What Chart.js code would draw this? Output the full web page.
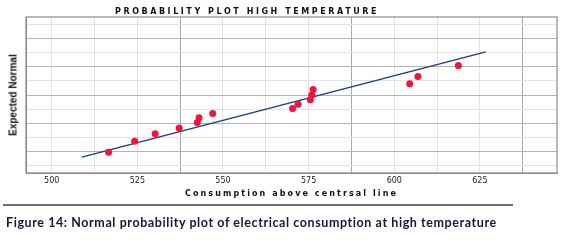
<!DOCTYPE html>
<html>
<head>
<meta charset="utf-8">
<script src="https://cdn.jsdelivr.net/npm/chart.js@4/dist/chart.umd.min.js"></script>
<style>
  html, body { margin:0; padding:0; background:#fff; }
  body { width:568px; height:243px; overflow:hidden; position:relative; }
  #box { position:absolute; left:0; top:0; width:568px; height:200px; }
  #c { display:block; width:568px; height:200px; }
  .t { position:absolute; white-space:nowrap; }
  #title { left:115px; top:7px; font:900 8px "DejaVu Sans", sans-serif; color:#111; }
  #xtitle { left:185px; top:189px; font:900 8px "DejaVu Sans", sans-serif; color:#111; }
  #ytitle { font:bold 10px "Liberation Sans Narrow", "Liberation Sans", sans-serif; color:#111;
            left:13px; top:95px; transform:translate(-50%,-50%) rotate(-90deg); }
  #capwrap { position:absolute; left:3px; top:204px; width:510px; height:36px;
             border-top:2px solid #707070; }
  #caption { left:3px; top:9px; font:bold 12.5px Lato, "Open Sans", sans-serif; color:#15183a; }
</style>
</head>
<body>
<div id="box"><canvas id="c" width="568" height="200"></canvas></div>
<div id="title" class="t">PROBABILITY PLOT HIGH TEMPERATURE</div>
<div id="ytitle" class="t">Expected Normal</div>
<div id="xtitle" class="t">Consumption above centrsal line</div>
<div id="capwrap"><div id="caption" class="t">Figure 14: Normal probability plot of electrical consumption at high temperature</div></div>
<script>
// ---- data ----
const consumption = [516.6, 524.2, 530.2, 537.2, 542.5, 543.0, 547.0, 570.3, 571.9, 575.5, 575.9, 576.3, 604.5, 606.9, 618.7];
const expectedNormal = [-2.02, -1.63, -1.37, -1.16, -0.97, -0.80, -0.65, -0.48, -0.33, -0.17, 0.00, 0.19, 0.40, 0.65, 1.04];
const fitLineX = [508.8, 626.7];
const fitLineY = [-2.19, 1.52];
const xTickLabels = [500, 525, 550, 575, 600, 625];
const xGridValues = [500, 512.5, 525, 537.5, 550, 562.5, 575, 587.5, 600, 612.5, 625, 637.5];
const yGridValues = [-2.5, -2, -1.5, -1, -0.5, 0, 0.5, 1, 1.5, 2, 2.5];

// fit text widths
function fitWidth(id, target) {
  const el = document.getElementById(id);
  const n = el.textContent.length;
  const w = el.getBoundingClientRect().width;
  el.style.letterSpacing = ((target - w) / n) + 'px';
}
fitWidth('title', 264);
fitWidth('xtitle', 213);
fitWidth('caption', 491);

const framePlugin = {
  id: 'frame',
  afterDatasetsDraw(chart) {
    const a = chart.chartArea, ctx = chart.ctx;
    ctx.save();
    ctx.strokeStyle = '#8a8a8a';
    ctx.lineWidth = 1.2;
    ctx.strokeRect(a.left, a.top, a.right - a.left, a.bottom - a.top);
    ctx.restore();
  }
};

new Chart(document.getElementById('c'), {
  type: 'scatter',
  data: {
    datasets: [
      {
        type: 'line',
        data: fitLineX.map((x, i) => ({ x, y: fitLineY[i] })),
        borderColor: '#1c3a7c',
        borderWidth: 1.3,
        pointRadius: 0,
        fill: false,
        order: 2
      },
      {
        data: consumption.map((x, i) => ({ x, y: expectedNormal[i] })),
        backgroundColor: '#f2143c',
        borderColor: '#f2143c',
        pointRadius: 3.5,
        pointBorderWidth: 0,
        order: 1
      }
    ]
  },
  options: {
    responsive: false,
    animation: false,
    devicePixelRatio: 1,
    layout: { padding: { left: 26, right: 11, top: 17, bottom: 7 } },
    plugins: { legend: { display: false }, tooltip: { enabled: false }, title: { display: false } },
    scales: {
      x: {
        type: 'linear', min: 492.5, max: 647.5,
        afterBuildTicks: s => { s.ticks = xGridValues.map(v => ({ value: v })); },
        afterFit: s => { s.height = 20; },
        ticks: {
          autoSkip: false, maxRotation: 0, padding: 3,
          font: { family: 'DejaVu Sans', size: 8 }, color: '#222',
          callback: v => xTickLabels.includes(v) ? String(v) : ''
        },
        grid: {
          drawTicks: false,
          color: c => ((c.tick.value - 537.5) % 50 === 0) ? '#a8a8a8' : '#e2e2e2',
          lineWidth: 1
        },
        border: { color: '#8a8a8a' }
      },
      y: {
        type: 'linear', min: -2.75, max: 2.75,
        afterBuildTicks: s => { s.ticks = yGridValues.map(v => ({ value: v })); },
        afterFit: s => { s.width = 0; },
        ticks: { display: false },
        grid: {
          drawTicks: false,
          color: c => Number.isInteger(c.tick.value) ? '#b4b4b4' : '#e2e2e2',
          lineWidth: 1
        },
        border: { color: '#8a8a8a' }
      }
    }
  },
  plugins: [framePlugin]
});
</script>
</body>
</html>
